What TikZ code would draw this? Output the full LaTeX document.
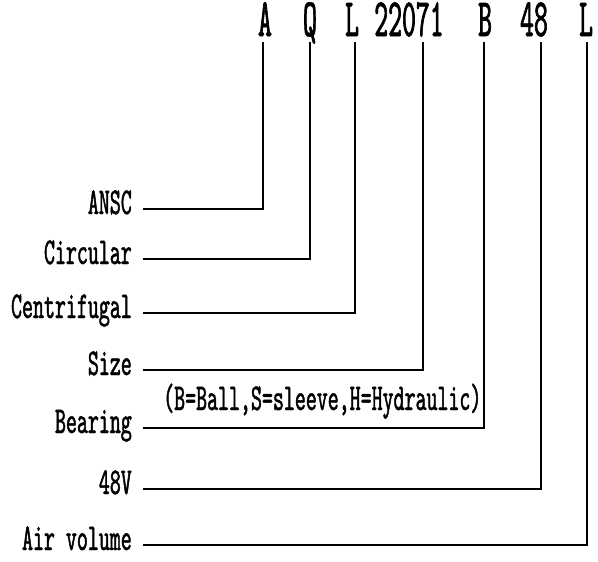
\documentclass[tikz,border=0pt]{standalone}
\usepackage{fontspec}
\newfontfamily\codefont[Extension=.otf,FakeStretch=0.49,FakeBold=1.2]{lmmono10-regular}
\newfontfamily\labelfont[Extension=.otf,FakeStretch=0.55,FakeBold=1.2]{lmmono10-regular}
\tikzset{
	code/.style={font=\codefont\fontsize{54}{54}\selectfont, anchor=base, inner sep=0pt, text height=26pt, text depth=0pt},
	lbl/.style={font=\labelfont\fontsize{38}{38}\selectfont, anchor=base east, inner xsep=11pt, inner ysep=0pt},
	note/.style={font=\labelfont\fontsize{38}{38}\selectfont, anchor=base west, inner sep=0pt},
	conn/.style={line width=2pt}
}

\begin{document}
\begin{tikzpicture}[x=1pt, y=-1pt]
			%%%%% START %%%%%
			\useasboundingbox (0, 0) rectangle (598, 562);
			
			% model code
			\node[code] (cA) at (265, 36) {A};
			\node[code] (cQ) at (310, 36) {Q};
			\node[code] (cL) at (352, 36) {L};
			\node[code] (cSize) at (409, 36) {22071};
			\node[code] (cB) at (485, 36) {B};
			\node[code] (c48) at (534, 36) {48};
			\node[code] (cAir) at (586, 36) {L};
			
			\coordinate (tA) at (263, 42);
			\coordinate (tQ) at (310, 42);
			\coordinate (tL) at (355, 42);
			\coordinate (tSize) at (423, 42);
			\coordinate (tB) at (484, 42);
			\coordinate (t48) at (541, 42);
			\coordinate (tAir) at (587, 42);
			
			% meanings, base line 5pt under the leader
			\node[lbl] (ansc) at (143, 214) {ANSC};
			\node[lbl] (circ) at (143, 264) {Circular};
			\node[lbl] (centr) at (143, 318) {Centrifugal};
			\node[lbl] (size) at (143, 375) {Size};
			\node[lbl] (bear) at (143, 433) {Bearing};
			\node[lbl] (volt) at (143, 494) {48V};
			\node[lbl] (air) at (143, 550) {Air volume};
			
			\node[note] (bnote) at (163, 410) {(B=Ball,S=sleeve,H=Hydraulic)};
			
			\draw[conn] ([yshift=5pt]ansc.base east) -| (tA);
			\draw[conn] ([yshift=5pt]circ.base east) -| (tQ);
			\draw[conn] ([yshift=5pt]centr.base east) -| (tL);
			\draw[conn] ([yshift=5pt]size.base east) -| (tSize);
			\draw[conn] ([yshift=5pt]bear.base east) -| (tB);
			\draw[conn] ([yshift=5pt]volt.base east) -| (t48);
			\draw[conn] ([yshift=5pt]air.base east) -| (tAir);
			%%%%% END %%%%%
\end{tikzpicture}
\end{document}
